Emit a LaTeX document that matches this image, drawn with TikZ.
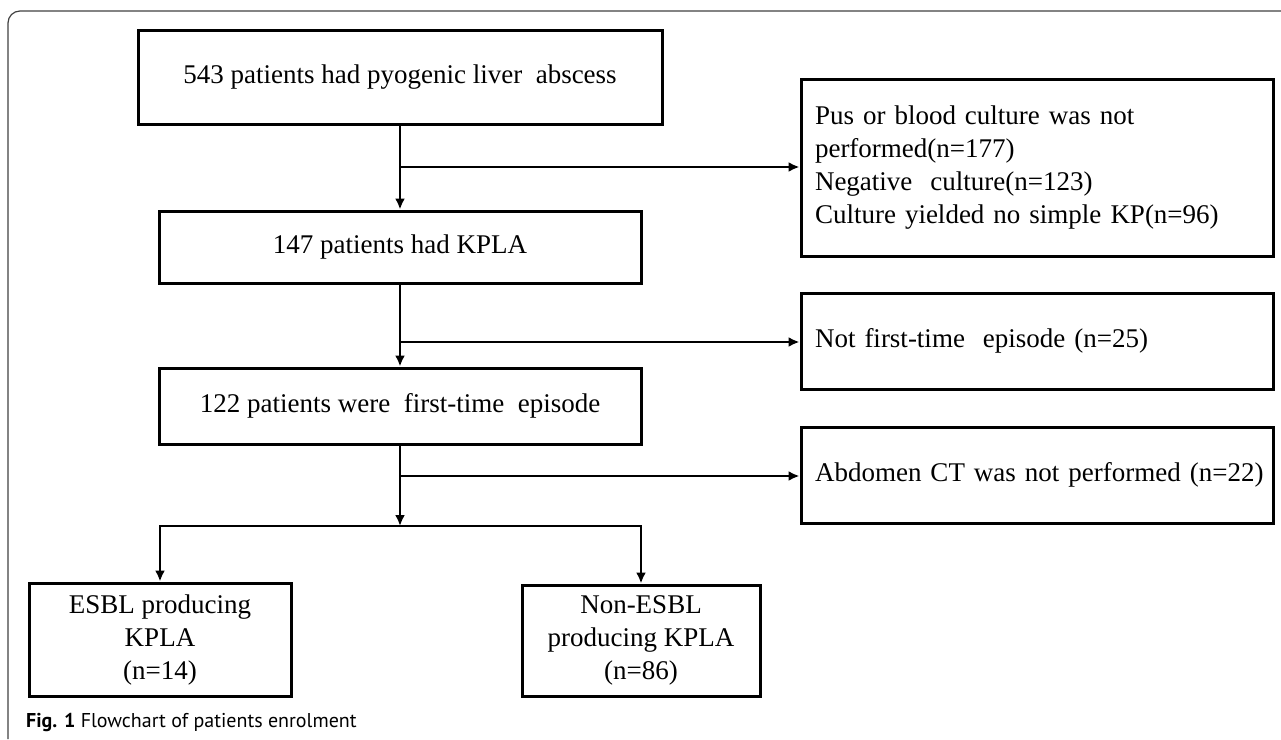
\documentclass[tikz,border=0pt]{standalone}
\usepackage{fontspec}
\setmainfont{Liberation Serif}
\newfontfamily\capfont{PT Sans}
\usetikzlibrary{arrows.meta}
\begin{document}
\begin{tikzpicture}[x=1pt,y=-1pt,
  box/.style={draw,line width=3pt,inner sep=0pt,font=\fontsize{27}{33}\selectfont,align=center},
  sidebox/.style={box,align=left,text width=444pt,inner xsep=14pt,minimum width=472pt},
  conn/.style={line width=2.6pt,-{Latex[length=11pt,width=10pt]}},
  ln/.style={line width=2.6pt,line cap=rect},
  frame/.style={line width=1.2pt,draw=black!75}]
\useasboundingbox (0,0) rectangle (1281,739);
\draw[frame,rounded corners=12pt] (8,739) -- (8,11) -- (1281,11);

\node[box,minimum width=524pt,minimum height=94pt] (b1) at (400,77) {543 patients had pyogenic liver\ \ abscess};
\node[box,minimum width=482pt,minimum height=72pt] (b2) at (400,247) {147 patients had KPLA};
\node[box,minimum width=482pt,minimum height=76pt] (b3) at (400,406) {122 patients were\ \ first-time\ \ episode};

\node[sidebox,minimum height=177pt] (e1) at (1037,167.5) {Pus or blood culture was not\\performed(n=177)\\Negative\ \ culture(n=123)\\Culture yielded no simple KP(n=96)};
\node[sidebox,minimum height=96pt] (e2) at (1037,341) {Not first-time\ \ episode (n=25)};
\node[sidebox,minimum height=96pt] (e3) at (1037,475) {\mbox{Abdomen CT was not performed (n=22)}};

\node[box,minimum width=262pt,minimum height=113pt] (esbl) at (160,639.5) {ESBL producing\\KPLA\\(n=14)};
\node[box,minimum width=238pt,minimum height=111pt] (non) at (641,640.5) {Non-ESBL\\producing KPLA\\(n=86)};

\coordinate (j1) at (400,167);
\coordinate (j2) at (400,342);
\coordinate (j3) at (400,476);
\coordinate (j4) at (400,526);

\draw[conn] (b1.south) -- (b2.north);
\draw[conn] (j1) -- (j1 -| e1.west);
\draw[conn] (b2.south) -- (b3.north);
\draw[conn] (j2) -- (j2 -| e2.west);
\draw[conn] (b3.south) -- (j4);
\draw[conn] (j3) -- (j3 -| e3.west);
\draw[ln] (j4 -| esbl.north) -- (j4 -| non.north);
\draw[conn] (j4 -| esbl.north) -- (esbl.north);
\draw[conn] (j4 -| non.north) -- (non.north);

\node[anchor=base west,inner sep=0pt,font=\capfont\fontsize{20}{24}\selectfont] (cap) at (26,727) {\textbf{Fig. 1} Flowchart of patients enrolment};
\end{tikzpicture}
\end{document}
